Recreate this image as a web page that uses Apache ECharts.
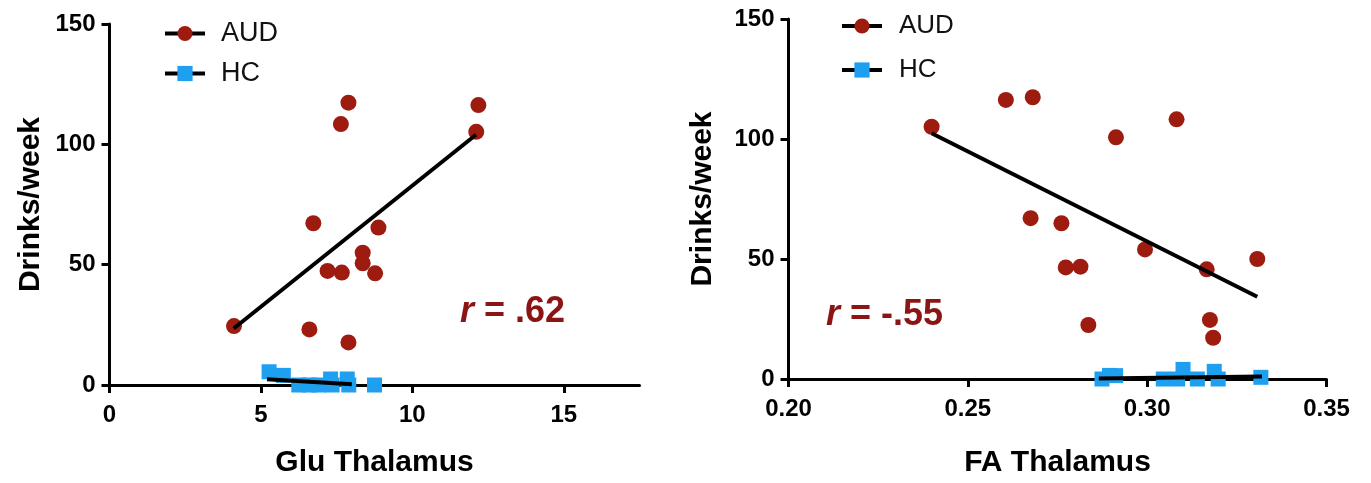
<!DOCTYPE html>
<html>
<head>
<meta charset="utf-8">
<script src="https://cdn.jsdelivr.net/npm/echarts@6/dist/echarts.min.js"></script>
<style>
  html, body { margin: 0; padding: 0; background: #fff; }
  #main { width: 1371px; height: 483px; }
</style>
</head>
<body>
<div id="main"></div>
<script>
// --- data ---
// left panel: Glu Thalamus vs Drinks/week
var gluAUD = [
  [4.11, 24.5], [7.89, 117.3], [7.64, 108.4], [12.18, 116.3], [12.11, 105.2],
  [6.73, 67.2], [8.88, 65.4], [8.36, 55.0], [8.36, 50.6], [7.20, 47.4],
  [7.67, 46.7], [8.77, 46.4], [6.60, 23.1], [7.89, 17.7]
]
var gluHC = [
  [5.27, 5.5], [5.74, 4.0], [6.25, 0], [6.6, 0], [6.9, 0],
  [7.3, 2.5], [7.35, 0], [7.85, 2.5], [7.9, 0], [8.75, 0]
]
var gluFitAUD = [[4.1, 23.5], [12.1, 104]]
var gluFitHC = [[5.2, 2.4], [8.0, 0.3]]

// right panel: FA Thalamus vs Drinks/week
var faAUD = [
  [0.2399, 105.1], [0.2606, 116.3], [0.2681, 117.4], [0.3082, 108.2], [0.2913, 100.7],
  [0.2675, 67.0], [0.2761, 64.9], [0.2994, 54.0], [0.2773, 46.5], [0.2814, 46.8],
  [0.3166, 45.7], [0.3307, 50.0], [0.2836, 22.5], [0.3175, 24.6], [0.3184, 17.2]
]
var faHC = [
  [0.2874, 0], [0.2895, 1.5], [0.2912, 1.4], [0.3045, 0], [0.3085, 0],
  [0.3100, 4.0], [0.3140, 0], [0.3187, 3.2], [0.3198, 0], [0.3317, 0.7]
]
var faFitAUD = [[0.2399, 102.4], [0.3307, 34.3]]
var faFitHC = [[0.2865, 0.2], [0.332, 1.0]]

var yTicks = [0, 50, 100, 150]
var gluTicks = [0, 5, 10, 15]
var faTicks = [0.20, 0.25, 0.30, 0.35]

var AUD_COLOR = '#9e1b10'
var HC_COLOR = '#1e9ff0'
var R_COLOR = '#8b1414'
var FONT = '"Liberation Sans", Arial, Helvetica, sans-serif'

var chart = echarts.init(document.getElementById('main'))

function xAxis(idx, min, max, ticks, name, gap, fmt) {
  return {
    type: 'value', gridIndex: idx, min: min, max: max,
    name: name, nameLocation: 'middle', nameGap: gap,
    nameTextStyle: { fontFamily: FONT, fontWeight: 'bold', fontSize: 30, color: '#000' },
    axisLine: { lineStyle: { color: '#000', width: 3 } },
    axisTick: { show: true, inside: false, length: 8, lineStyle: { width: 3, color: '#000' }, customValues: ticks },
    axisLabel: { fontFamily: FONT, fontWeight: 'bold', fontSize: 24, color: '#000', margin: 18, customValues: ticks, formatter: fmt },
    splitLine: { show: false }
  }
}

function yAxis(idx, gap) {
  return {
    type: 'value', gridIndex: idx, min: 0, max: 150,
    name: 'Drinks/week', nameLocation: 'middle', nameGap: gap,
    nameTextStyle: { fontFamily: FONT, fontWeight: 'bold', fontSize: 30, color: '#000' },
    axisLine: { show: true, lineStyle: { color: '#000', width: 3 } },
    axisTick: { show: true, inside: false, length: 8, lineStyle: { width: 3, color: '#000' }, customValues: yTicks },
    axisLabel: { fontFamily: FONT, fontWeight: 'bold', fontSize: 24, color: '#000', margin: 14, customValues: yTicks },
    splitLine: { show: false }
  }
}

function fitLine(name, idx, data, symbol) {
  return {
    name: name, type: 'line', xAxisIndex: idx, yAxisIndex: idx, data: data,
    symbol: symbol, showSymbol: false, z: 3,
    itemStyle: { color: name === 'AUD' ? AUD_COLOR : HC_COLOR },
    lineStyle: { color: '#000', width: 4 },
    silent: true
  }
}

function dots(name, idx, data) {
  var aud = name === 'AUD'
  return {
    name: name, type: 'scatter', xAxisIndex: idx, yAxisIndex: idx, data: data,
    symbol: aud ? 'circle' : 'rect', symbolSize: aud ? 16 : 15,
    itemStyle: { color: aud ? AUD_COLOR : HC_COLOR, opacity: 1 },
    z: 2
  }
}

function legend(left, top, gap, size, pad) {
  return {
    orient: 'vertical', left: left, top: top, padding: 0,
    itemWidth: 40, itemHeight: 19, itemGap: gap,
    data: ['AUD', 'HC'],
    lineStyle: { width: 4, color: '#000' },
    textStyle: { fontFamily: FONT, fontSize: size, color: '#111', padding: [0, 0, 0, pad] }
  }
}

chart.setOption({
  animation: false,
  backgroundColor: '#fff',
  grid: [
    { left: 109.5, top: 24, width: 530, height: 361 },
    { left: 788.5, top: 19, width: 538, height: 360 }
  ],
  xAxis: [
    xAxis(0, 0, 17.5, gluTicks, 'Glu Thalamus', 63),
    xAxis(1, 0.2, 0.35, faTicks, 'FA Thalamus', 69, function (v) { return v.toFixed(2) })
  ],
  yAxis: [yAxis(0, 64), yAxis(1, 71)],
  legend: [legend(163, 20, 13, 27, 11), legend(840, 13, 18, 26, 12)],
  series: [
    fitLine('AUD', 0, gluFitAUD, 'circle'),
    fitLine('HC', 0, gluFitHC, 'rect'),
    dots('AUD', 0, gluAUD),
    dots('HC', 0, gluHC),
    fitLine('AUD', 1, faFitAUD, 'circle'),
    fitLine('HC', 1, faFitHC, 'rect'),
    dots('AUD', 1, faAUD),
    dots('HC', 1, faHC)
  ],
  graphic: [
    {
      type: 'text', left: 460, top: 294,
      style: {
        text: '{i|r} = .62',
        fontFamily: FONT, fontWeight: 'bold', fontSize: 36, fill: R_COLOR,
        rich: { i: { fontFamily: FONT, fontWeight: 'bold', fontStyle: 'italic', fontSize: 36, fill: R_COLOR } }
      }
    },
    {
      type: 'text', left: 826, top: 297,
      style: {
        text: '{i|r} = -.55',
        fontFamily: FONT, fontWeight: 'bold', fontSize: 36, fill: R_COLOR,
        rich: { i: { fontFamily: FONT, fontWeight: 'bold', fontStyle: 'italic', fontSize: 36, fill: R_COLOR } }
      }
    }
  ]
})
</script>
</body>
</html>
